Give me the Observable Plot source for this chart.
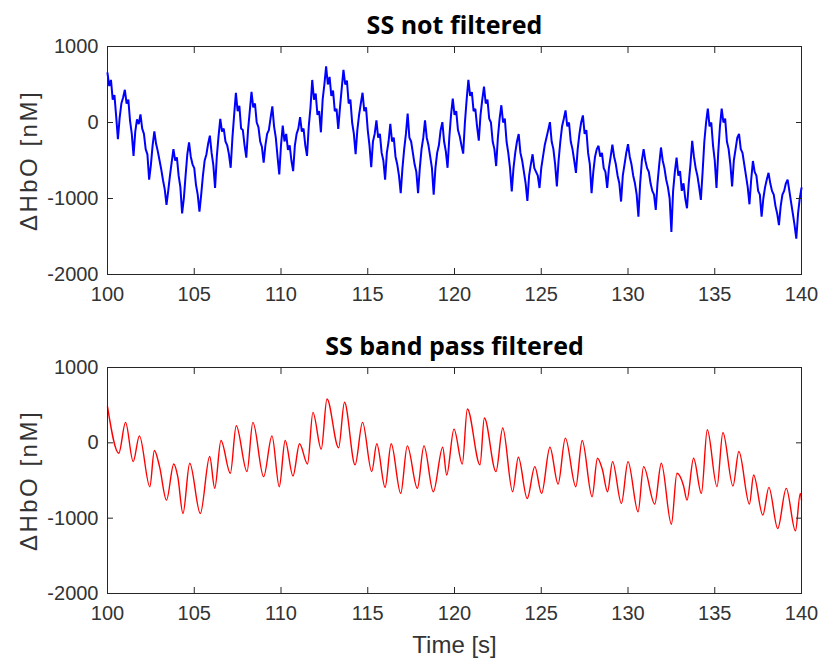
<!DOCTYPE html>
<html>
<head>
<meta charset="utf-8">
<script src="https://cdn.jsdelivr.net/npm/d3@7"></script>
<script src="https://cdn.jsdelivr.net/npm/@observablehq/plot@0.6"></script>
<style>
  html, body { margin: 0; padding: 0; background: #fff; }
  #chart { width: 820px; }
  #chart svg { display: block; }
</style>
</head>
<body>
<div id="chart"></div>
<script>
// ---- tick labels / texts ----
const xTicks = [100, 105, 110, 115, 120, 125, 130, 135, 140];
const yTicks = [-2000, -1000, 0, 1000];
const titles = ["SS not filtered", "SS band pass filtered"];
const yLabel = "\u0394HbO [nM]";
const xLabel = "Time [s]";

// ---- raw (not filtered) signal, sampled every 0.1 s from t = 100 s ----
const rawStart = 100;
const rawStep = 0.1;
const rawValues = [
  650,480,560,300,360,80,-220,60,250,330,
  430,250,300,20,-150,-440,-120,40,-20,107,
  -80,-150,-350,-420,-751,-560,-300,-116,-280,-380,
  -500,-620,-760,-880,-1084,-900,-700,-520,-351,-500,
  -460,-700,-850,-1196,-1000,-700,-420,-262,-450,-550,
  -600,-820,-950,-1173,-950,-700,-500,-420,-280,-173,
  -400,-560,-862,-450,-180,49,-120,-80,-250,-300,
  -420,-596,-200,100,391,150,220,-80,-100,-300,
  -462,-100,150,404,200,250,0,-60,-250,-320,
  -529,-300,-150,-100,60,213,-50,-200,-450,-684,
  -300,-40,-250,-150,-360,-300,-500,-640,-300,-150,
  -80,71,-120,-80,-300,-440,-50,200,560,300,
  380,100,150,-129,300,500,738,500,600,350,
  420,150,180,-84,200,450,693,500,550,250,
  300,0,-150,-418,-100,100,250,391,150,200,
  -100,-300,-587,-250,-150,27,-200,-150,-400,-500,
  -751,-400,-250,-18,-250,-200,-450,-550,-700,-929,
  -600,-350,-150,116,-200,-250,-400,-550,-650,-929,
  -600,-350,-200,27,-200,-300,-450,-600,-951,-600,
  -400,-300,-100,4,-250,-380,-596,-200,100,316,
  100,150,-100,-180,-300,-409,0,300,560,350,
  400,150,180,-50,-240,100,300,471,250,300,
  50,0,-250,-350,-573,-200,50,227,0,50,
  -250,-400,-600,-907,-600,-400,-250,-151,-400,-500,
  -650,-800,-1031,-700,-550,-418,-600,-650,-700,-862,
  -600,-450,-300,-200,-100,4,-250,-350,-550,-840,
  -500,-250,-50,50,160,-50,0,-250,-350,-500,
  -662,-350,-150,0,93,-150,-100,-400,-550,-929,
  -650,-450,-350,-307,-450,-400,-600,-650,-862,-600,
  -450,-293,-450,-550,-700,-800,-1040,-700,-550,-400,
  -284,-450,-550,-700,-800,-950,-1240,-800,-500,-351,
  -500,-600,-650,-800,-900,-950,-1151,-800,-550,-329,
  -500,-600,-750,-850,-1000,-1440,-900,-650,-462,-700,
  -640,-900,-800,-1000,-1129,-800,-550,-240,-450,-600,
  -700,-850,-1018,-650,-250,0,182,-50,0,-300,
  -500,-862,-400,-50,182,0,50,-250,-350,-550,
  -840,-500,-350,-200,-151,-350,-400,-550,-700,-850,
  -1076,-750,-507,-650,-700,-900,-950,-1240,-1000,-850,
  -750,-662,-800,-900,-950,-1100,-1200,-1351,-1100,-950,
  -900,-800,-751,-900,-1050,-1200,-1350,-1529,-1200,-1000,
  -862
];

// ---- band pass filtered signal: turning points (time, value) ----
const filtTime = [
  100.0,100.65,101.04,101.48,101.84,102.44,102.7,103.0,103.4,103.82,
  104.05,104.35,104.74,105.35,105.89,106.18,106.54,107.08,107.42,108.04,
  108.38,109.0,109.48,109.9,110.24,110.69,111.07,111.53,111.84,112.32,
  112.65,113.32,113.66,114.27,114.7,115.23,115.52,116.0,116.35,116.9,
  117.28,117.86,118.24,118.78,119.32,119.55,119.97,120.45,120.74,121.47,
  121.72,122.39,122.78,123.35,123.68,124.19,124.63,125.02,125.5,125.97,
  126.39,126.99,127.36,127.93,128.24,128.52,128.82,129.11,129.62,130.0,
  130.58,130.9,131.54,131.92,132.5,132.82,133.2,133.4,133.78,134.23,
  134.57,135.13,135.47,136.05,136.39,137.0,137.24,137.77,138.12,138.63,
  139.12,139.65,139.93,140.0
];
const filtValue = [
  480,-138,271,-249,93,-582,-102,-316,-760,-280,
  -449,-938,-271,-938,-182,-604,31,-404,227,-382,
  271,-449,93,-582,31,-440,-13,-280,404,-84,
  582,-65,538,-293,271,-382,-13,-591,-13,-671,
  -40,-604,-40,-649,-58,-427,182,-280,449,-293,
  329,-382,196,-649,-191,-738,-316,-671,-58,-547,
  62,-582,31,-716,-204,-351,-649,-249,-804,-249,
  -916,-316,-813,-271,-1080,-404,-569,-760,-204,-671,
  173,-582,138,-573,-116,-813,-427,-960,-591,-1138,
  -604,-1169,-671,-760
];

const rawData = rawValues.map((v, i) => ({t: rawStart + i * rawStep, v}));
const filtData = filtTime.map((t, i) => ({t, v: filtValue[i]}));

const FONT = "'Liberation Sans', Arial, Helvetica, sans-serif";
const AXIS = "#262626";

function panel({data, color, width, curve, title, height, marginTop, marginBottom, withXLabel}) {
  const marks = [
    Plot.line(data, {x: "t", y: "v", stroke: color, strokeWidth: width, curve, strokeLinejoin: "miter"}),
    Plot.frame({stroke: AXIS, strokeWidth: 1}),
    // inward ticks on all four sides (MATLAB box style)
    Plot.axisX({anchor: "bottom", ticks: xTicks, tickSize: -6, tickFormat: () => "", stroke: AXIS, label: null}),
    Plot.axisX({anchor: "top", ticks: xTicks, tickSize: -6, tickFormat: () => "", stroke: AXIS, label: null}),
    Plot.axisY({anchor: "left", ticks: yTicks, tickSize: -6, tickFormat: () => "", stroke: AXIS, label: null}),
    Plot.axisY({anchor: "right", ticks: yTicks, tickSize: -6, tickFormat: () => "", stroke: AXIS, label: null}),
    // tick labels
    Plot.axisX({anchor: "bottom", ticks: xTicks, tickSize: 0, tickPadding: 12, tickFormat: d => String(d),
      fontSize: 20, fill: "#333", label: null}),
    Plot.axisY({anchor: "left", ticks: yTicks, tickSize: 0, tickPadding: 9, tickFormat: d => String(d),
      fontSize: 20, fill: "#333", label: null}),
    Plot.text([title], {frameAnchor: "top", dy: -13, text: d => d, lineAnchor: "bottom", textAnchor: "middle",
      fontSize: 25, fontWeight: "bold", fill: "#000", fontFamily: "'Open Sans', sans-serif"}),
    Plot.text([yLabel], {frameAnchor: "left", dx: -78, rotate: -90, text: d => d, lineAnchor: "middle",
      textAnchor: "middle", fontSize: 24, fill: "#333"})
  ];
  if (withXLabel) {
    marks.push(Plot.text([xLabel], {frameAnchor: "bottom", dy: 52, text: d => d, lineAnchor: "middle",
      textAnchor: "middle", fontSize: 24, fill: "#333"}));
  }
  const svg = Plot.plot({
    width: 820,
    height,
    marginTop,
    marginBottom,
    marginLeft: 107,
    marginRight: 19,
    style: {fontFamily: FONT, background: "#fff", overflow: "visible"},
    x: {domain: [100, 140], axis: null},
    y: {domain: [-2000, 1000], axis: null},
    marks
  });
  // MATLAB's TeX label is set a little wider
  svg.querySelectorAll("text").forEach(t => {
    if (t.textContent === yLabel) t.setAttribute("letter-spacing", "2.5");
  });
  return svg;
}

const chart = document.getElementById("chart");
chart.append(panel({data: rawData, color: "#0000ff", width: 2, curve: "linear", title: titles[0],
  height: 310, marginTop: 46, marginBottom: 36, withXLabel: false}));
chart.append(panel({data: filtData, color: "#ff0000", width: 1.4, curve: "monotone-x", title: titles[1],
  height: 352, marginTop: 57, marginBottom: 69, withXLabel: true}));
</script>
</body>
</html>
